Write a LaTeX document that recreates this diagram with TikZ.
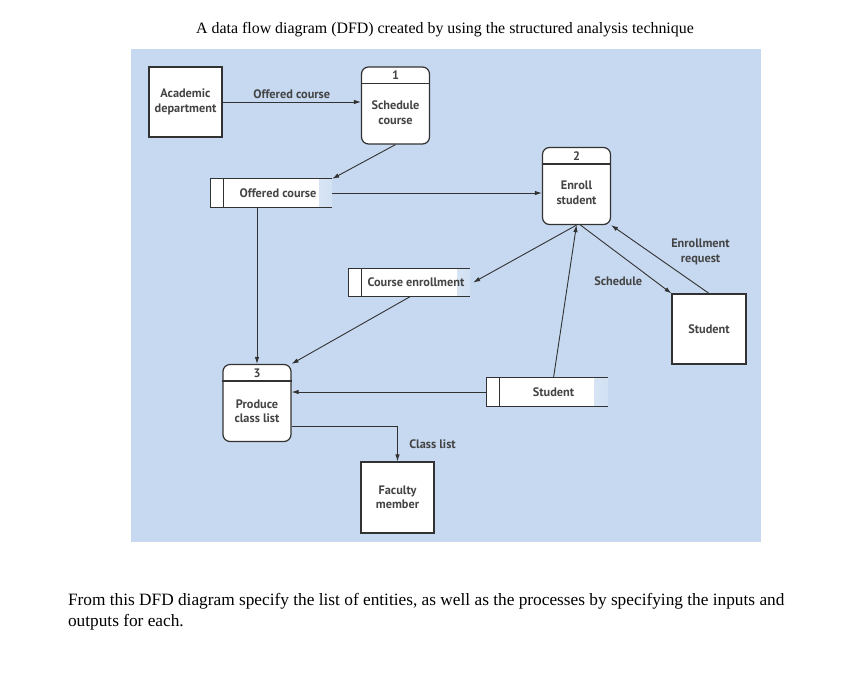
\documentclass[tikz,border=0pt]{standalone}
\usepackage{fontspec}
\setmainfont{Liberation Serif}
\newfontfamily\dfdfont{PT Sans}
\usepackage{tikz}
\usetikzlibrary{arrows.meta,shapes}
\definecolor{dfdblue}{RGB}{198,217,240}
\definecolor{dfdline}{RGB}{50,50,50}
\definecolor{dfdtext}{RGB}{68,68,68}
\tikzset{
  lbl/.style={font=\dfdfont\bfseries\fontsize{12.3}{14.5}\selectfont, text=dfdtext, align=center},
  entity/.style={lbl, draw=dfdline, fill=white, line width=1.2pt,
    minimum width=73pt, minimum height=70pt, inner sep=1pt},
  proc/.style={draw=dfdline, fill=white, line width=1.2pt, rounded corners=7pt,
    minimum width=68pt, minimum height=77pt},
  store/.style={lbl, fill=white, minimum width=108pt, minimum height=28pt, inner sep=0pt,
    path picture={\shade[left color=white, right color=dfdblue!80!white]
      ([xshift=-13pt]path picture bounding box.north east) rectangle (path picture bounding box.south east);}},
  flow/.style={draw=dfdline, line width=0.9pt, ->}
}

\begin{document}
\begin{tikzpicture}[x=1pt,y=-1pt,>={Latex[length=7pt,width=4.5pt]}]
\useasboundingbox (0,0) rectangle (853,678);

\node[font=\fontsize{15.9}{18}\selectfont] (title) at (445,29.5)
    {A data flow diagram (DFD) created by using the structured analysis technique};
\fill[dfdblue] (131,49) rectangle (761,542);

\node[entity] (acad) at (185.5,102) {Academic\\department};
\node[entity, minimum height=71pt] (fac) at (397.5,497.5) {Faculty\\member};
\node[entity, minimum width=74pt] (stu) at (709,329) {Student};

\node[proc] (p1) at (395.5,105.5) {};
\node[proc] (p2) at (576.5,186) {};
\node[proc] (p3) at (257,403) {};
\foreach \p/\n in {p1/1,p2/2,p3/3} {
  \draw[dfdline, line width=1.2pt] ([yshift=-17pt]\p.north west) -- ([yshift=-17pt]\p.north east);
  \node[lbl] (\p num) at ([yshift=-9pt]\p.north) {\n};
}
\node[lbl] (p1txt) at ([yshift=-7pt]p1.center) {Schedule\\course};
\node[lbl] (p2txt) at ([yshift=-7pt]p2.center) {Enroll\\student};
\node[lbl] (p3txt) at ([yshift=-8pt]p3.center) {Produce\\class list};

\node[store] (s1) at (278,193) {Offered course};
\node[store] (s2) at (416,282.5) {Course enrollment};
\node[store] (s3) at (553.5,392) {Student};
\foreach \s in {s1,s2,s3} {
  \draw[dfdline, line width=1.2pt, fill=white] ([xshift=-13pt]\s.north west) rectangle (\s.south west);
  \draw[dfdline, line width=1.2pt] (\s.north west) -- (\s.north east) (\s.south west) -- (\s.south east);
}

\draw[flow] (acad.east) -- (acad.east -| p1.west) node[lbl, midway, above] {Offered course};
\draw[flow] (p1.south) -- (s1.north east);
\draw[flow] (s1.east) -- (s1.east -| p2.west);
\draw[flow] (s1.south -| p3.north) -- (p3.north);
\draw[flow] (p2.south) -- ([xshift=3pt]s2.east);
\draw[flow] ([xshift=-6pt]s2.south) -- (p3.north east);
\draw[flow] ([xshift=-13pt]s3.west) -- (s3.west -| p3.east);
\draw[flow] (s3.north) -- (p2.south);
\draw[flow] ([yshift=-23pt]p3.east) -| (fac.north) node[lbl, pos=0.75, right=8pt] {Class list};
\draw[flow] ([xshift=4pt]p2.south) -- (stu.north west) node[lbl, pos=0.72, left, yshift=-7pt] {Schedule};
\draw[flow] (stu.north) -- (p2.south east) node[lbl, pos=0.4, above right, inner sep=1pt] {Enrollment\\request};

\node[anchor=west, align=left, font=\fontsize{17.3}{21}\selectfont] (task) at (64.5,611.5)
    {From this DFD diagram specify the list of entities, as well as the processes by specifying the inputs and\\outputs for each.};
\end{tikzpicture}
\end{document}
